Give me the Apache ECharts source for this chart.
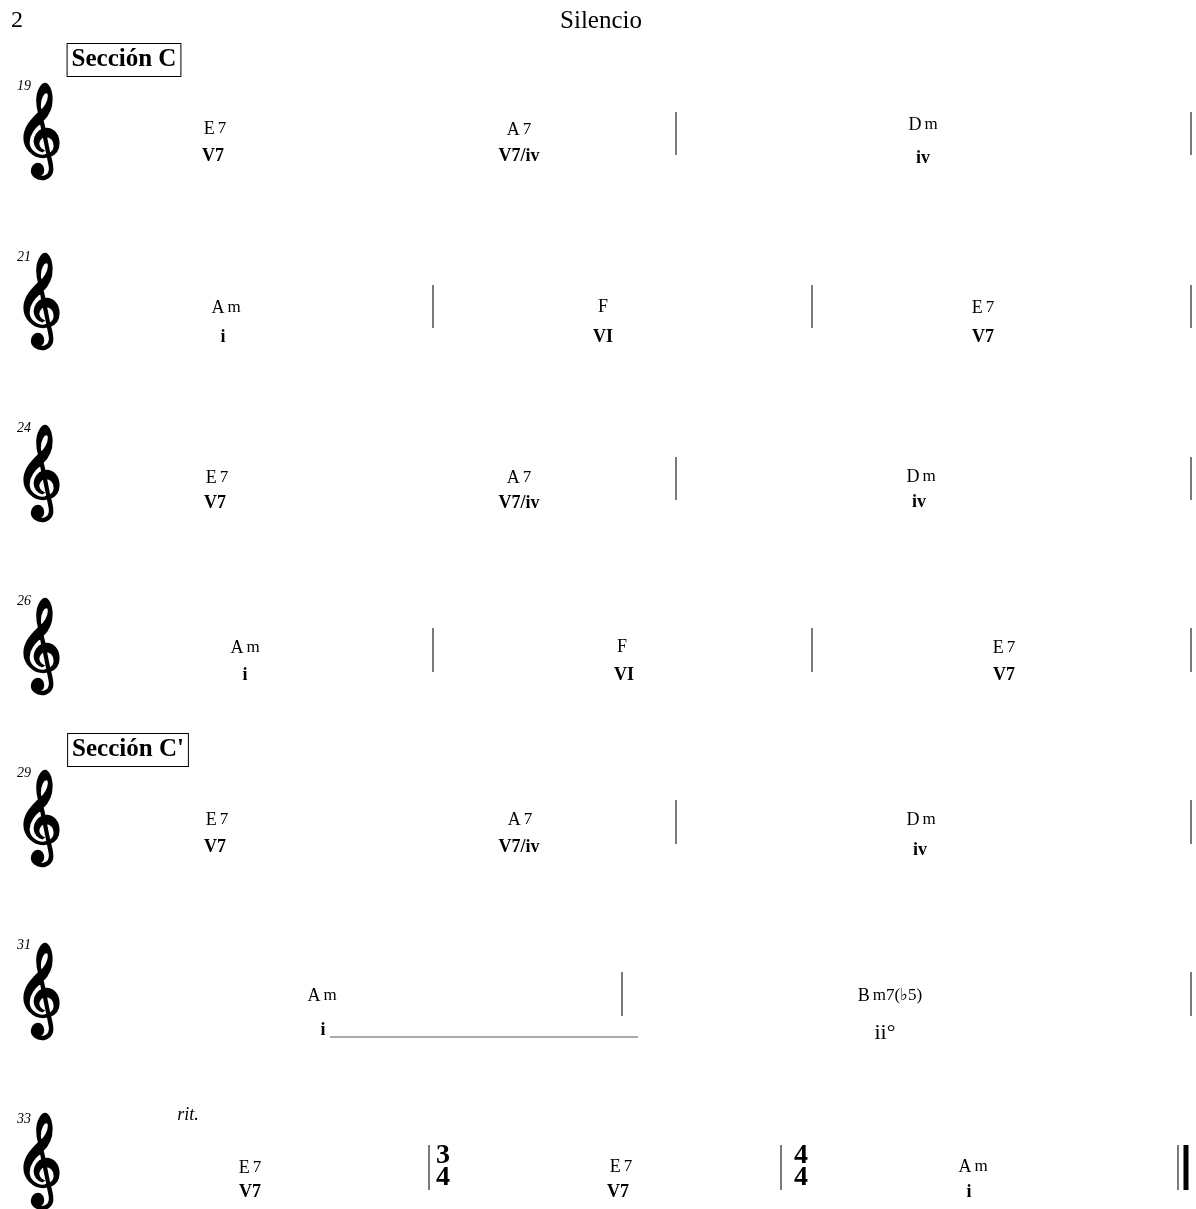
<!DOCTYPE html>
<html><head><meta charset="utf-8">
<script src="https://cdn.jsdelivr.net/npm/echarts@6/dist/echarts.min.js"></script>
<style>html,body{margin:0;padding:0;background:#fff}#c{width:1196px;height:1209px}</style>
</head><body><div id="c"></div>
<script>
// page header
const pageNumber = '2';
const title = 'Silencio';
// section labels [x, y, text]
const sections = [[124, 60, 'Sección C'], [128, 750, "Sección C'"]];
// systems: first measure number and vertical centre of the staff
const measureNumbers = ['19', '21', '24', '26', '29', '31', '33'];
const measureNumberY = [86, 257, 428, 601, 773, 945, 1119];
const clefY = [135, 305, 477, 650, 822, 995, 1165];
// chord symbols [x, y, root, quality]
const chordSymbols = [
  [215, 129, 'E', '7'], [519, 130, 'A', '7'], [923, 125, 'D', 'm'],
  [226, 308, 'A', 'm'], [603, 307, 'F', ''], [983, 308, 'E', '7'],
  [217, 478, 'E', '7'], [519, 478, 'A', '7'], [921, 477, 'D', 'm'],
  [245, 648, 'A', 'm'], [622, 647, 'F', ''], [1004, 648, 'E', '7'],
  [217, 820, 'E', '7'], [520, 820, 'A', '7'], [921, 820, 'D', 'm'],
  [322, 996, 'A', 'm'], [890, 996, 'B', 'm7(♭5)'],
  [250, 1168, 'E', '7'], [621, 1167, 'E', '7'], [973, 1167, 'A', 'm']
];
// roman numeral analysis [x, y, text]
const romanNumerals = [
  [213, 156, 'V7'], [519, 156, 'V7/iv'], [923, 158, 'iv'],
  [223, 337, 'i'], [603, 337, 'VI'], [983, 337, 'V7'],
  [215, 503, 'V7'], [519, 503, 'V7/iv'], [919, 502, 'iv'],
  [245, 675, 'i'], [624, 675, 'VI'], [1004, 675, 'V7'],
  [215, 847, 'V7'], [519, 847, 'V7/iv'], [920, 850, 'iv'],
  [323, 1030, 'i'],
  [250, 1192, 'V7'], [618, 1192, 'V7'], [969, 1192, 'i']
];
const romanPlain = [[885, 1033, 'ii°']];
// barlines [x, yTop, yBottom]
const barlines = [
  [676, 112, 155], [1191, 112, 155],
  [433, 285, 328], [812, 285, 328], [1191, 285, 328],
  [676, 457, 500], [1191, 457, 500],
  [433, 628, 672], [812, 628, 672], [1191, 628, 672],
  [676, 800, 844], [1191, 800, 844],
  [622, 972, 1016], [1191, 972, 1016],
  [429, 1145, 1190], [781, 1145, 1190], [1178, 1145, 1190]
];
const finalBarlines = [[1186, 1145, 1190]];
// extender line [x1, x2, y]
const extenders = [[330, 638, 1037]];
// time signatures [x, y, top, bottom]
const timeSignatures = [[443, 1167, '3', '4'], [801, 1167, '4', '4']];
// tempo text
const tempoMarks = [[188, 1115, 'rit.']];

const SERIF = '"Liberation Serif", "DejaVu Serif", serif';

function textSeries(data, styleFn) {
  return {
    type: 'custom', coordinateSystem: 'cartesian2d', data: data, silent: true,
    renderItem: function (params, api) {
      const d = data[params.dataIndex];
      const p = api.coord([d[0], d[1]]);
      return { type: 'text', style: Object.assign({ x: p[0], y: p[1], align: 'center', verticalAlign: 'middle', fill: '#000' }, styleFn(d)) };
    }
  };
}

const clefData = clefY.map(y => [38, y]);
const numData = measureNumbers.map((n, i) => [24, measureNumberY[i], n]);

const option = {
  animation: false,
  grid: { left: 0, right: 0, top: 0, bottom: 0 },
  xAxis: { type: 'value', min: 0, max: 1196, show: false },
  yAxis: { type: 'value', min: 0, max: 1209, inverse: true, show: false },
  series: [
    textSeries([[17, 21, pageNumber]], d => ({ text: d[2], font: '24px ' + SERIF })),
    textSeries([[601, 21, title]], d => ({ text: d[2], font: '25px ' + SERIF })),
    textSeries(sections, d => ({ text: d[2], font: 'bold 25px ' + SERIF, padding: [4, 4, 3, 4], borderColor: '#000', borderWidth: 1, backgroundColor: '#fff' })),
    textSeries(numData, d => ({ text: d[2], font: 'italic 14px ' + SERIF })),
    textSeries(clefData, d => ({ text: '\u{1D11E}', font: 'bold 80px "DejaVu Sans"' })),
    textSeries(chordSymbols, d => ({
      text: '{r|' + d[2] + '}' + (d[3] ? '{g| }{q|' + d[3] + '}' : ''),
      rich: { r: { font: '18px ' + SERIF }, q: { font: '17px ' + SERIF }, g: { font: '12px ' + SERIF } }
    })),
    textSeries(romanNumerals, d => ({ text: d[2], font: 'bold 18px ' + SERIF })),
    textSeries(romanPlain, d => ({ text: d[2], font: '22px ' + SERIF })),
    textSeries(tempoMarks, d => ({ text: d[2], font: 'italic 18px ' + SERIF })),
    textSeries(timeSignatures, d => ({ text: d[2] + '\n' + d[3], font: 'bold 28px ' + SERIF, lineHeight: 22 })),
    {
      type: 'custom', coordinateSystem: 'cartesian2d', data: barlines, silent: true,
      renderItem: function (params, api) {
        const d = barlines[params.dataIndex];
        const a = api.coord([d[0], d[1]]), b = api.coord([d[0], d[2]]);
        return { type: 'line', shape: { x1: a[0], y1: a[1], x2: b[0], y2: b[1] }, style: { stroke: '#333', lineWidth: 1.3 } };
      }
    },
    {
      type: 'custom', coordinateSystem: 'cartesian2d', data: finalBarlines, silent: true,
      renderItem: function (params, api) {
        const d = finalBarlines[params.dataIndex];
        const a = api.coord([d[0], d[1]]), b = api.coord([d[0], d[2]]);
        return { type: 'line', shape: { x1: a[0], y1: a[1], x2: b[0], y2: b[1] }, style: { stroke: '#000', lineWidth: 5 } };
      }
    },
    {
      type: 'custom', coordinateSystem: 'cartesian2d', data: extenders, silent: true,
      renderItem: function (params, api) {
        const d = extenders[params.dataIndex];
        const a = api.coord([d[0], d[2]]), b = api.coord([d[1], d[2]]);
        return { type: 'line', shape: { x1: a[0], y1: a[1], x2: b[0], y2: b[1] }, style: { stroke: '#555', lineWidth: 1.2 } };
      }
    }
  ]
};
echarts.init(document.getElementById('c')).setOption(option);
</script></body></html>
